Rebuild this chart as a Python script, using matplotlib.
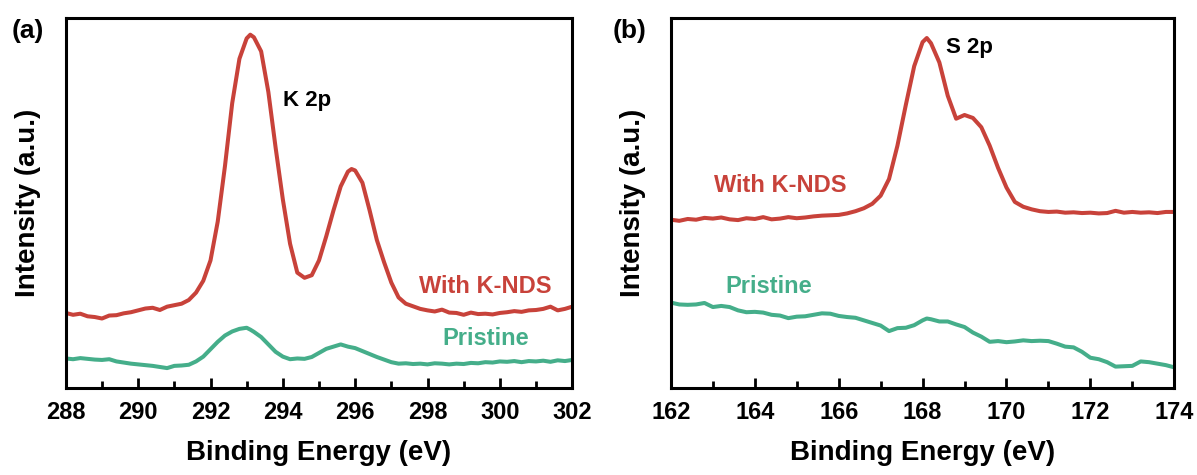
import matplotlib
matplotlib.use("Agg")
import matplotlib.pyplot as plt
from matplotlib.ticker import MultipleLocator

plt.rcParams['font.family'] = ['Liberation Sans', 'DejaVu Sans']
plt.rcParams['font.weight'] = 'bold'

RED = '#C8423A'
GREEN = '#45AE8A'

# K 2p region
k_be = [288.0, 288.2, 288.4, 288.6, 288.8, 289.0, 289.2, 289.4, 289.6, 289.8,
        290.0, 290.2, 290.4, 290.6, 290.8, 291.0, 291.2, 291.4, 291.6, 291.8,
        292.0, 292.2, 292.4, 292.6, 292.8, 293.0, 293.1, 293.2, 293.4, 293.6,
        293.8, 294.0, 294.2, 294.4, 294.6, 294.8, 295.0, 295.2, 295.4, 295.6,
        295.8, 295.9, 296.0, 296.2, 296.4, 296.6, 296.8, 297.0, 297.2, 297.4,
        297.6, 297.8, 298.0, 298.2, 298.4, 298.6, 298.8, 299.0, 299.2, 299.4,
        299.6, 299.8, 300.0, 300.2, 300.4, 300.6, 300.8, 301.0, 301.2, 301.4,
        301.6, 301.8, 302.0]
k_knds = [0.203, 0.198, 0.201, 0.194, 0.192, 0.188, 0.196, 0.197, 0.202, 0.205,
          0.210, 0.215, 0.217, 0.211, 0.220, 0.224, 0.228, 0.238, 0.258, 0.290,
          0.345, 0.450, 0.600, 0.770, 0.890, 0.945, 0.955, 0.948, 0.910, 0.800,
          0.650, 0.510, 0.390, 0.312, 0.298, 0.305, 0.345, 0.410, 0.480, 0.545,
          0.585, 0.592, 0.588, 0.555, 0.480, 0.400, 0.340, 0.285, 0.245, 0.228,
          0.221, 0.214, 0.210, 0.207, 0.212, 0.204, 0.203, 0.198, 0.204, 0.200,
          0.201, 0.199, 0.203, 0.205, 0.208, 0.206, 0.210, 0.211, 0.214, 0.220,
          0.210, 0.214, 0.220]
k_pristine = [0.080, 0.078, 0.081, 0.079, 0.077, 0.076, 0.078, 0.072, 0.069, 0.066,
              0.064, 0.062, 0.060, 0.057, 0.054, 0.060, 0.061, 0.063, 0.072, 0.085,
              0.105, 0.125, 0.142, 0.153, 0.160, 0.163, 0.158, 0.152, 0.138, 0.118,
              0.098, 0.085, 0.078, 0.080, 0.079, 0.084, 0.095, 0.106, 0.112, 0.118,
              0.112, 0.110, 0.108, 0.100, 0.092, 0.084, 0.077, 0.070, 0.066, 0.067,
              0.065, 0.066, 0.064, 0.067, 0.066, 0.064, 0.066, 0.065, 0.068, 0.067,
              0.070, 0.069, 0.072, 0.071, 0.073, 0.070, 0.073, 0.072, 0.074, 0.071,
              0.075, 0.073, 0.076]

# S 2p region
s_be = [162.0, 162.2, 162.4, 162.6, 162.8, 163.0, 163.2, 163.4, 163.6, 163.8,
        164.0, 164.2, 164.4, 164.6, 164.8, 165.0, 165.2, 165.4, 165.6, 165.8,
        166.0, 166.2, 166.4, 166.6, 166.8, 167.0, 167.2, 167.4, 167.6, 167.8,
        168.0, 168.1, 168.2, 168.4, 168.6, 168.8, 169.0, 169.2, 169.4, 169.6,
        169.8, 170.0, 170.2, 170.4, 170.6, 170.8, 171.0, 171.2, 171.4, 171.6,
        171.8, 172.0, 172.2, 172.4, 172.6, 172.8, 173.0, 173.2, 173.4, 173.6,
        173.8, 174.0]
s_knds = [0.455, 0.452, 0.457, 0.455, 0.460, 0.458, 0.461, 0.456, 0.454, 0.459,
          0.457, 0.462, 0.456, 0.458, 0.462, 0.459, 0.461, 0.464, 0.466, 0.467,
          0.468, 0.472, 0.478, 0.486, 0.498, 0.520, 0.565, 0.655, 0.765, 0.870,
          0.935, 0.946, 0.932, 0.880, 0.790, 0.728, 0.738, 0.730, 0.705, 0.655,
          0.595, 0.542, 0.503, 0.490, 0.483, 0.478, 0.476, 0.477, 0.474, 0.475,
          0.473, 0.474, 0.472, 0.473, 0.479, 0.474, 0.476, 0.474, 0.475, 0.473,
          0.476, 0.476]
s_pristine = [0.231, 0.226, 0.225, 0.226, 0.230, 0.219, 0.222, 0.219, 0.210, 0.205,
              0.206, 0.204, 0.198, 0.196, 0.189, 0.193, 0.194, 0.198, 0.202, 0.201,
              0.195, 0.192, 0.190, 0.183, 0.176, 0.169, 0.154, 0.162, 0.163, 0.170,
              0.183, 0.188, 0.186, 0.180, 0.180, 0.172, 0.165, 0.150, 0.139, 0.125,
              0.127, 0.124, 0.126, 0.129, 0.127, 0.128, 0.127, 0.120, 0.112, 0.110,
              0.098, 0.082, 0.078, 0.070, 0.058, 0.059, 0.060, 0.072, 0.070, 0.066,
              0.062, 0.056]

fig = plt.figure(figsize=(11.97, 4.75), dpi=100)
ax1 = fig.add_axes([0.055, 0.183, 0.423, 0.779])
ax2 = fig.add_axes([0.5605, 0.183, 0.4205, 0.779])


def style(ax, xmin, xmax):
    ax.set_xlim(xmin, xmax)
    ax.set_ylim(0, 1)
    ax.xaxis.set_major_locator(MultipleLocator(2))
    ax.xaxis.set_minor_locator(MultipleLocator(1))
    ax.tick_params(axis='x', which='major', direction='in', length=7, width=2,
                   labelsize=17, pad=9, top=False)
    ax.tick_params(axis='x', which='minor', direction='in', length=5, width=2, top=False)
    ax.set_yticks([])
    for s in ax.spines.values():
        s.set_linewidth(2.2)
    ax.set_xlabel('Binding Energy (eV)', fontsize=20, fontweight='bold', labelpad=12)
    ax.set_ylabel('Intensity (a.u.)', fontsize=20, fontweight='bold', labelpad=18)


ax1.plot(k_be, k_knds, color=RED, lw=2.9)
ax1.plot(k_be, k_pristine, color=GREEN, lw=2.9)
style(ax1, 288, 302)
ax1.text(294.0, 0.776, 'K 2p', fontsize=16, fontweight='bold', va='center', ha='left')
ax1.text(299.6, 0.275, 'With K-NDS', color=RED, fontsize=17, fontweight='bold', ha='center', va='center')
ax1.text(299.6, 0.135, 'Pristine', color=GREEN, fontsize=17, fontweight='bold', ha='center', va='center')

ax2.plot(s_be, s_knds, color=RED, lw=2.9)
ax2.plot(s_be, s_pristine, color=GREEN, lw=2.9)
style(ax2, 162, 174)
ax2.text(168.55, 0.92, 'S 2p', fontsize=16, fontweight='bold', va='center', ha='left')
ax2.text(164.6, 0.547, 'With K-NDS', color=RED, fontsize=17, fontweight='bold', ha='center', va='center')
ax2.text(164.34, 0.275, 'Pristine', color=GREEN, fontsize=17, fontweight='bold', ha='center', va='center')

fig.text(0.010, 0.935, '(a)', fontsize=19, fontweight='bold', ha='left', va='center')
fig.text(0.512, 0.935, '(b)', fontsize=19, fontweight='bold', ha='left', va='center')

fig.savefig('out.png', dpi=100)
